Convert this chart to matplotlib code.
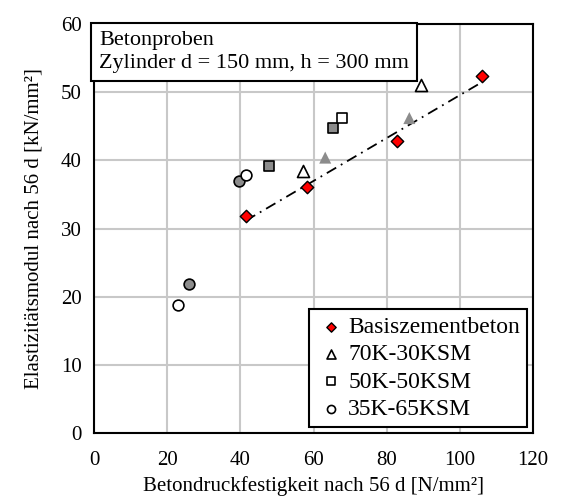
import matplotlib.pyplot as plt
import numpy as np

plt.rcParams['font.family'] = ['Liberation Serif', 'DejaVu Serif']

# Basiszementbeton
bz_x = [41.5, 58.1, 82.7, 106.0]
bz_y = [31.8, 36.1, 42.9, 52.3]
# 70K-30KSM (white / gray)
k70_x = [57.2, 89.4]
k70_y = [38.5, 51.0]
k70g_x = [63.2, 86.2]
k70g_y = [40.4, 46.2]
# 50K-50KSM
k50_x = [67.9]
k50_y = [46.2]
k50g_x = [47.7, 65.2]
k50g_y = [39.1, 44.8]
# 35K-65KSM
k35_x = [23.0, 41.5]
k35_y = [18.8, 37.8]
k35g_x = [26.0, 39.5]
k35g_y = [21.9, 37.0]

fig = plt.figure(figsize=(5.65, 4.96), dpi=100)
ax = fig.add_axes([94/565, 63/496, 439/565, 409/496])

gray = '#8c8c8c'
ax.scatter(k35g_x, k35g_y, marker='o', s=60, c=gray, edgecolors='black', linewidths=1.2, zorder=3)
ax.scatter(k35_x, k35_y, marker='o', s=60, c='white', edgecolors='black', linewidths=1.2, zorder=3, label='35K-65KSM')
ax.scatter(k50g_x, k50g_y, marker='s', s=60, c=gray, edgecolors='black', linewidths=1.2, zorder=3)
ax.scatter(k50_x, k50_y, marker='s', s=60, c='white', edgecolors='black', linewidths=1.2, zorder=3, label='50K-50KSM')
ax.scatter(k70g_x, k70g_y, marker='^', s=75, c=gray, edgecolors='none', zorder=3)
ax.scatter(k70_x, k70_y, marker='^', s=75, c='white', edgecolors='black', linewidths=1.2, zorder=3, label='70K-30KSM')
ax.scatter(bz_x, bz_y, marker='D', s=40, c='red', edgecolors='black', linewidths=1.0, zorder=4, label='Basiszementbeton')

# trend line of Basiszementbeton
p = np.polyfit(bz_x, bz_y, 1)
xs = np.array([min(bz_x), max(bz_x)])
ax.plot(xs, np.polyval(p, xs), color='black', linestyle=(0, (6, 3, 1, 3)), linewidth=1.3, zorder=2)

ax.set_xlim(0, 120)
ax.set_ylim(0, 60)
ax.set_xticks(np.arange(0, 121, 20))
ax.set_yticks(np.arange(0, 61, 10))
ax.grid(True, color='#c8c8c8', linewidth=1.5)
ax.set_axisbelow(True)
for s in ax.spines.values():
    s.set_linewidth(1.5)
ax.tick_params(length=0, labelsize=15)
ax.tick_params(axis='x', pad=13)
ax.tick_params(axis='y', pad=9)
ax.set_xlabel('Betondruckfestigkeit nach 56 d [N/mm²]', fontsize=15, labelpad=4)
ax.set_ylabel('Elastizitätsmodul nach 56 d [kN/mm²]', fontsize=15, labelpad=12)

handles, labels = ax.get_legend_handles_labels()
order = [3, 2, 1, 0]
leg = ax.legend([handles[i] for i in order], [labels[i] for i in order],
                loc='lower right', fontsize=17, frameon=True, fancybox=False,
                edgecolor='black', framealpha=1, handletextpad=0.15,
                handlelength=1.2, borderpad=0.3, labelspacing=0.25, markerscale=0.75,
                borderaxespad=0.25)
leg.get_frame().set_linewidth(1.5)

fig.text(99/565, 1 - 52/496, 'Betonproben\nZylinder d = 150 mm, h = 300 mm',
         fontsize=16, va='center', ha='left', linespacing=1.25,
         bbox=dict(boxstyle='square,pad=0.38', facecolor='white', edgecolor='black', linewidth=1.5))

fig.savefig('out.png', dpi=100)
